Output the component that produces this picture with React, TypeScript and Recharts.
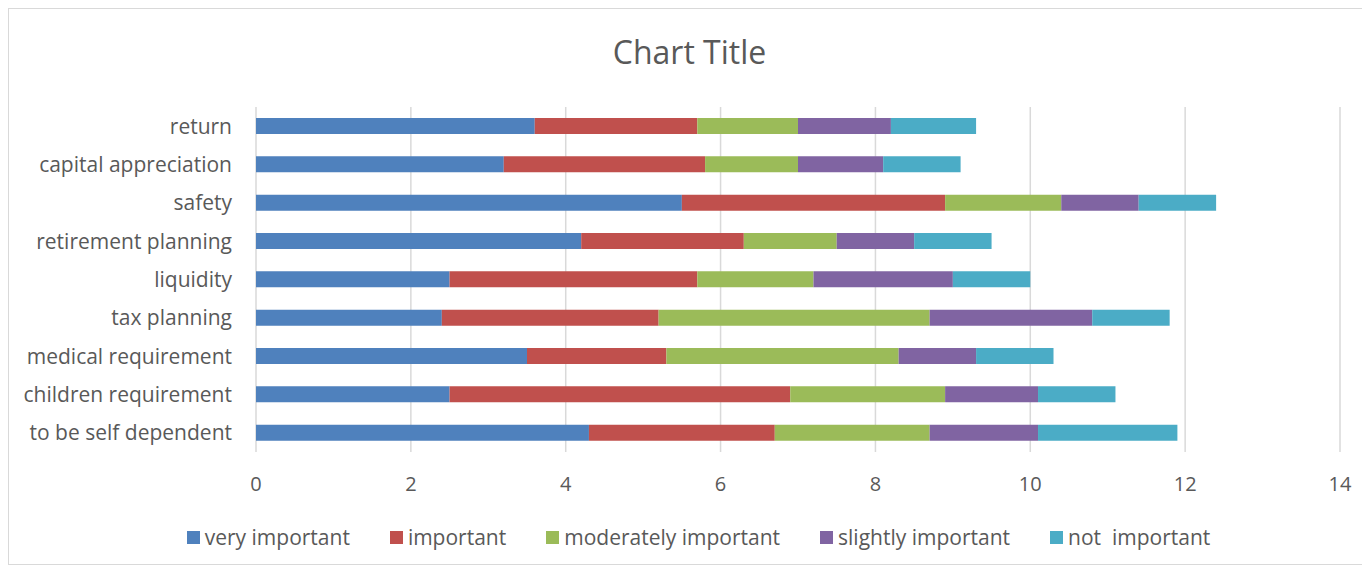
import React from 'react';
import { BarChart, Bar, XAxis, YAxis, CartesianGrid, Legend } from 'recharts';

const categories = [
  'return',
  'capital appreciation',
  'safety',
  'retirement planning',
  'liquidity',
  'tax planning',
  'medical requirement',
  'children requirement',
  'to be self dependent',
];
const veryImportant = [3.6, 3.2, 5.5, 4.2, 2.5, 2.4, 3.5, 2.5, 4.3];
const important = [2.1, 2.6, 3.4, 2.1, 3.2, 2.8, 1.8, 4.4, 2.4];
const moderatelyImportant = [1.3, 1.2, 1.5, 1.2, 1.5, 3.5, 3.0, 2.0, 2.0];
const slightlyImportant = [1.2, 1.1, 1.0, 1.0, 1.8, 2.1, 1.0, 1.2, 1.4];
const notImportant = [1.1, 1.0, 1.0, 1.0, 1.0, 1.0, 1.0, 1.0, 1.8];
const xTicks = [0, 2, 4, 6, 8, 10, 12, 14];

const series = [
  { key: 'very', name: 'very important', color: '#4F81BD', values: veryImportant },
  { key: 'imp', name: 'important', color: '#C0504D', values: important },
  { key: 'mod', name: 'moderately important', color: '#9BBB59', values: moderatelyImportant },
  { key: 'slight', name: 'slightly important', color: '#8064A2', values: slightlyImportant },
  { key: 'not', name: 'not  important', color: '#4BACC6', values: notImportant },
];

const data = categories.map((name, i) => {
  const row: Record<string, string | number> = { name };
  series.forEach((s) => {
    row[s.key] = s.values[i];
  });
  return row;
});

const FONT = '"Open Sans", Lato, sans-serif';
const TEXT = '#595959';

const LegendRow = () => (
  <div
    style={{
      display: 'flex',
      justifyContent: 'center',
      alignItems: 'center',
      gap: 40,
      height: 30,
      paddingLeft: 18,
      fontFamily: FONT,
      fontSize: 21,
      color: TEXT,
    }}
  >
    {series.map((s) => (
      <div key={s.key} style={{ display: 'flex', alignItems: 'center', gap: 5, whiteSpace: 'pre' }}>
        <span style={{ width: 13, height: 13, background: s.color, display: 'inline-block' }} />
        <span>{s.name}</span>
      </div>
    ))}
  </div>
);

export default function App() {
  return (
    <div
      style={{
        position: 'relative',
        width: 1361,
        height: 555,
        border: '1px solid #d9d9d9',
        background: '#fff',
      }}
    >
      <div
        style={{
          position: 'absolute',
          top: 21,
          left: 0,
          width: '100%',
          textAlign: 'center',
          fontFamily: FONT,
          fontSize: 32,
          color: TEXT,
          zIndex: 1,
        }}
      >
        Chart Title
      </div>
      <BarChart
        width={1361}
        height={555}
        data={data}
        layout="vertical"
        margin={{ top: 98, right: 30, bottom: 12, left: 0 }}
        barSize={16}
      >
        <CartesianGrid horizontal={false} stroke="#d9d9d9" strokeWidth={1.5} />
        <XAxis
          type="number"
          domain={[0, 14]}
          ticks={xTicks}
          interval={0}
          axisLine={false}
          tickLine={false}
          tickSize={6}
          tickMargin={19}
          height={70}
          tick={{ fill: TEXT, fontSize: 20, fontFamily: FONT }}
        />
        <YAxis
          type="category"
          dataKey="name"
          width={247}
          axisLine={false}
          tickLine={false}
          tickSize={6}
          tickMargin={18}
          interval={0}
          tick={{ fill: TEXT, fontSize: 21, fontFamily: FONT }}
        />
        <Legend
          verticalAlign="bottom"
          height={30}
          wrapperStyle={{ left: 0, width: 1361 }}
          content={() => <LegendRow />}
        />
        {series.map((s) => (
          <Bar
            key={s.key}
            dataKey={s.key}
            name={s.name}
            stackId="a"
            fill={s.color}
            isAnimationActive={false}
          />
        ))}
      </BarChart>
    </div>
  );
}
